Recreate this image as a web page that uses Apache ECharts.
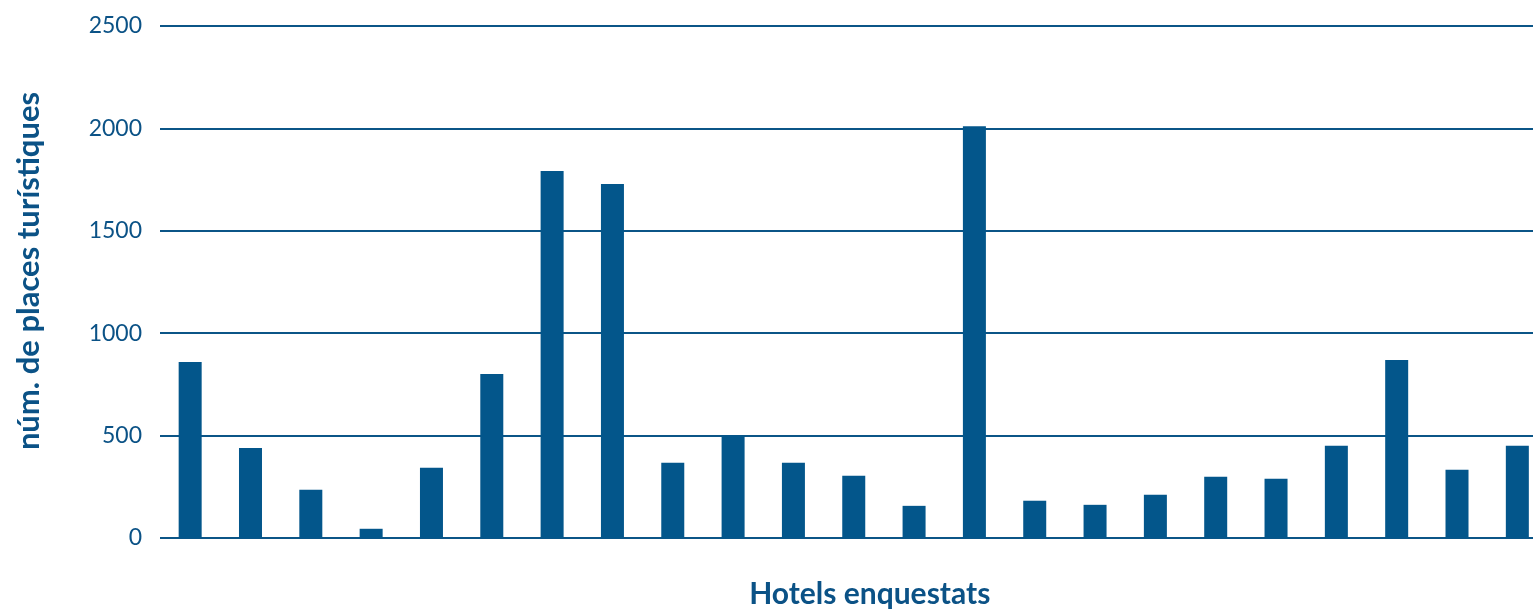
<!DOCTYPE html>
<html>
<head>
<meta charset="utf-8">
<script src="https://cdn.jsdelivr.net/npm/echarts@6/dist/echarts.min.js"></script>
<style>html,body{margin:0;padding:0;background:#fff;}#c{width:1533px;height:612px;}</style>
</head>
<body>
<div id="c"></div>
<script>
const categories = ['H1','H2','H3','H4','H5','H6','H7','H8','H9','H10','H11','H12','H13','H14','H15','H16','H17','H18','H19','H20','H21','H22','H23'];
const places = [859, 440, 235, 45, 343, 801, 1792, 1728, 367, 500, 367, 304, 157, 2010, 182, 162, 211, 299, 289, 450, 869, 333, 450];
const yTicks = [0, 500, 1000, 1500, 2000, 2500];
const xName = 'Hotels enquestats';
const yName = 'núm. de places turístiques';

const txt = '#0b5286';
const chart = echarts.init(document.getElementById('c'));
chart.setOption({
  animation: false,
  grid: { left: 160, top: 26, width: 1387.5, height: 512, outerBoundsMode: 'none', containLabel: false },
  xAxis: {
    type: 'category',
    data: categories,
    axisLine: { show: false },
    axisTick: { show: false },
    axisLabel: { show: false },
    name: xName,
    nameLocation: 'middle',
    nameGap: 41,
    nameTextStyle: { color: txt, fontFamily: 'Lato', fontWeight: 'bold', fontSize: 30, padding: [0, 0, 0, 32] }
  },
  yAxis: {
    type: 'value',
    min: yTicks[0],
    max: yTicks[yTicks.length - 1],
    interval: 500,
    axisLine: { show: false },
    axisTick: { show: false },
    axisLabel: { color: txt, fontFamily: 'Lato', fontSize: 23, margin: 18, formatter: v => String(v) },
    splitLine: { lineStyle: { color: '#0b5587', width: 2 } },
    name: yName,
    nameLocation: 'middle',
    nameGap: 116,
    nameTextStyle: { color: txt, fontFamily: 'Lato', fontWeight: 'bold', fontSize: 31, padding: [0, 0, 0, 22] }
  },
  series: [{
    type: 'bar',
    data: places,
    barWidth: 23,
    itemStyle: { color: '#03568b' }
  }]
});
</script>
</body>
</html>
